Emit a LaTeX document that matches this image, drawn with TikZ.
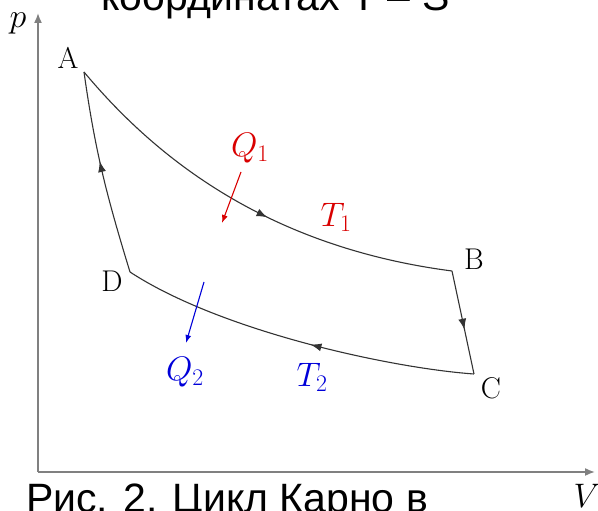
\RequirePackage{fix-cm}
\documentclass[tikz,border=0pt]{standalone}
\usepackage{fontspec}
\newfontfamily\capfont{Liberation Sans}
\usetikzlibrary{arrows.meta, decorations.markings}

\begin{document}
\begin{tikzpicture}[
    x=1pt, y=1pt,
    axis/.style={draw=gray, line width=1.6pt, -{Latex[length=10pt, width=8pt]}},
    cycle/.style={draw=black!80, line width=1.1pt},
    midarrow/.style={postaction={decorate}, decoration={markings,
        mark=at position #1 with {\arrow{Latex[length=11pt, width=8pt]}}}},
    midarrow/.default=0.5,
    point/.style={font=\fontsize{30}{36}\selectfont, inner sep=0pt},
    quantity/.style={font=\fontsize{34}{40}\selectfont, inner sep=0pt},
    heat/.style={line width=1.1pt, -{Latex[length=8pt, width=6pt]}},
    caption/.style={font=\capfont\fontsize{41}{48}\selectfont, anchor=base west, inner sep=0pt}
]
\clip (0,0) rectangle (598,511);

% captions of the page, cut by the frame
\node[caption] (captop) at (101,500) {координатах T – S};
\node[caption] (capbot) at (26,-2) {Рис. 2. Цикл Карно в};

% axes
\coordinate (O) at (38,39);
\coordinate (ytop) at (38,498);
\coordinate (xend) at (595,39);
\draw[axis] (O) -- (ytop);
\draw[axis] (O) -- (xend);
\node[quantity] (plab) at (18,488) {$p$};
\node[quantity] (vlab) at (587,15) {$V$};

% states of the cycle
\coordinate (A) at (84,439);
\coordinate (B) at (452,240);
\coordinate (C) at (474,137);
\coordinate (D) at (130,239);
\node[point] (alab) at (68,453) {A};
\node[point] (blab) at (474,252) {B};
\node[point] (clab) at (491,123) {C};
\node[point] (dlab) at (112,230) {D};

\draw[cycle, midarrow=0.55] (A) .. controls (150,360) and (260,265) .. (B);
\draw[cycle, midarrow=0.57] (B) -- (C);
\draw[cycle, midarrow=0.46] (C) .. controls (390,143) and (220,180) .. (D);
\draw[cycle, midarrow=0.56] (D) to[out=107, in=-82] (A);

% heat in and out
\coordinate (q1s) at (241,339);
\coordinate (q1e) at (222,288);
\coordinate (q2s) at (204,229);
\coordinate (q2e) at (186,168);
\draw[heat, red!85!black] (q1s) -- (q1e);
\draw[heat, blue!85!black] (q2s) -- (q2e);
\node[quantity, red!85!black] (q1lab) at (250,363) {$Q_1$};
\node[quantity, red!85!black] (t1lab) at (336,294) {$T_1$};
\node[quantity, blue!85!black] (q2lab) at (185,139) {$Q_2$};
\node[quantity, blue!85!black] (t2lab) at (312,134) {$T_2$};
\end{tikzpicture}
\end{document}
